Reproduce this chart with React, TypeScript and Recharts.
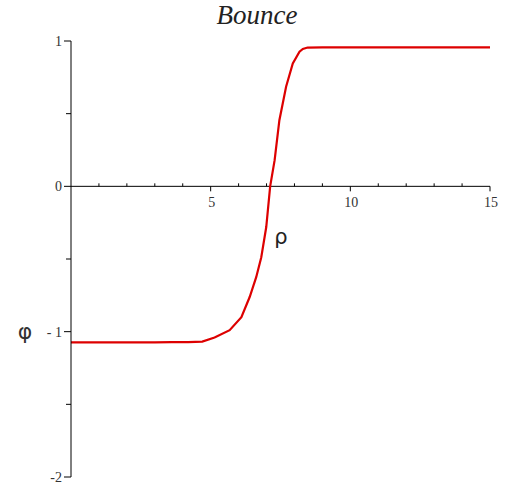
import React from 'react';
import { LineChart, Line, XAxis, YAxis, ReferenceLine, ReferenceDot } from 'recharts';

// Bounce profile φ(ρ)
const rhoValues = [0, 1, 2, 3, 3.6, 4.2, 4.7, 5.14, 5.68, 6.1, 6.4, 6.63, 6.81, 6.99, 7.13, 7.29, 7.46, 7.7, 7.94, 8.18, 8.3, 8.47, 9, 10, 11, 12, 13, 14, 15];
const phiValues = [-1.074, -1.074, -1.074, -1.074, -1.072, -1.072, -1.068, -1.04, -0.99, -0.9, -0.76, -0.625, -0.49, -0.28, 0, 0.18, 0.455, 0.685, 0.846, 0.926, 0.945, 0.955, 0.956, 0.956, 0.956, 0.956, 0.956, 0.956, 0.956];

const xMajorTicks = [5, 10, 15];
const xMinorTicks = [1, 2, 3, 4, 6, 7, 8, 9, 11, 12, 13, 14];
const yTicks = [-2, -1.5, -1, -0.5, 0, 0.5, 1];
const yTickLabels: Record<string, string> = { '-2': '-2', '-1': '- 1', '0': '0', '1': '1' };

const chartTitle = 'Bounce';
const xLabel = 'ρ';
const yLabel = 'φ';

const data = rhoValues.map((rho, i) => ({ rho, phi: phiValues[i] }));

const W = 514;
const H = 489;
const tickFont = '"Liberation Serif", "Times New Roman", serif';

const YTick = (props: any) => {
  const { x, y, payload } = props;
  const v = payload.value as number;
  const major = Number.isInteger(v);
  return (
    <g>
      <line x1={x - (major ? 7 : 5)} x2={x} y1={y} y2={y} stroke="#000" strokeWidth={1} />
      {major && (
        <text x={x - 9} y={y} dy="0.36em" textAnchor="end" fontFamily={tickFont} fontSize={14} fill="#333">
          {yTickLabels[String(v)]}
        </text>
      )}
    </g>
  );
};

const XMajorTick = ({ cx, cy, value }: any) => (
  <g>
    <line x1={cx} x2={cx} y1={cy} y2={cy + 5} stroke="#000" strokeWidth={1} />
    <text x={cx + 1} y={cy + 21} textAnchor="middle" fontFamily={tickFont} fontSize={14} fill="#333">
      {value}
    </text>
  </g>
);

const XMinorTick = ({ cx, cy }: any) => (
  <line x1={cx} x2={cx} y1={cy} y2={cy - 3} stroke="#000" strokeWidth={1} />
);

export default function App() {
  return (
    <div style={{ position: 'absolute', left: 0, top: 0, width: W, height: H, background: '#fff' }}>
      <LineChart width={W} height={H} data={data} margin={{ top: 41, right: 24, bottom: 12, left: 0 }}>
        <XAxis type="number" dataKey="rho" domain={[0, 15]} hide />
        <YAxis
          type="number"
          domain={[-2, 1]}
          ticks={yTicks}
          interval={0}
          width={71}
          tickSize={0}
          tickMargin={0}
          tickLine={false}
          axisLine={{ stroke: '#000', strokeWidth: 1 }}
          tick={<YTick />}
        />
        <ReferenceLine y={0} stroke="#000" strokeWidth={1} />
        {xMinorTicks.map((t) => (
          <ReferenceDot key={`m${t}`} x={t} y={0} r={0} shape={(p: any) => <XMinorTick {...p} />} />
        ))}
        {xMajorTicks.map((t) => (
          <ReferenceDot key={`M${t}`} x={t} y={0} r={0} shape={(p: any) => <XMajorTick {...p} value={t} />} />
        ))}
        <Line
          type="linear"
          dataKey="phi"
          stroke="#dd0000"
          strokeWidth={2.2}
          dot={false}
          isAnimationActive={false}
        />
      </LineChart>
      <svg width={W} height={H} style={{ position: 'absolute', left: 0, top: 0, pointerEvents: 'none' }}>
        <text x={257} y={24} textAnchor="middle" fontFamily={tickFont} fontStyle="italic" fontSize={27} fill="#222">
          {chartTitle}
        </text>
        <text x={281} y={244} textAnchor="middle" fontFamily='"DejaVu Sans", sans-serif' fontSize={21} fill="#222">
          {xLabel}
        </text>
        <text x={25} y={339} textAnchor="middle" fontFamily='"DejaVu Sans", sans-serif' fontSize={22} fill="#333">
          {yLabel}
        </text>
      </svg>
    </div>
  );
}
